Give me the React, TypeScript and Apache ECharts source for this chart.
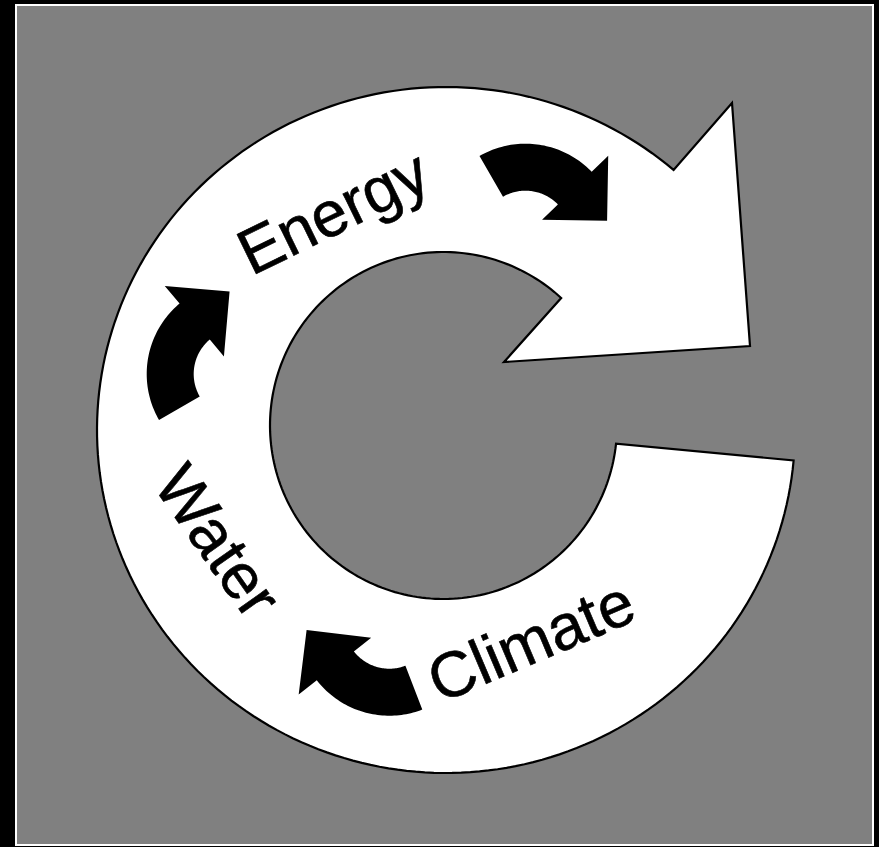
import { useEffect, useRef } from "react";
import * as echarts from "echarts";

// ---- content ----
const labels = ["Energy", "Water", "Climate"];
const labelCenterX = [333, 218, 531];
const labelCenterY = [212, 541, 641];
const labelAngleDeg = [26, -55, 23];

// small black curved arrows (centre of curvature, tail angle, head angle; screen degrees, clockwise)
const arrowCenterX = [525.5, 238.7, 389.3];
const arrowCenterY = [235.7, 374, 623.7];
const arrowTailDeg = [-120, 150, 69];
const arrowHeadDeg = [-44, 230, 142];

// big ring arrow
const ringOuter = { cx: 446, cy: 430, rx: 349, ry: 343, from: 5.1, to: 310.7 };
const ringInner = { cx: 443.5, cy: 425.5, r: 173.5, from: 312.7, to: 6.0 };
const ringHeadX = [732, 750, 504];
const ringHeadY = [103, 346, 362];

const ARROW_R_IN = 45;
const ARROW_R_OUT = 92;
const HEAD_R_MIN = 23;
const HEAD_R_MAX = 115;

const W = 879;
const H = 847;

function pt(cx: number, cy: number, rx: number, ry: number, deg: number): number[] {
  const a = (deg * Math.PI) / 180;
  return [cx + rx * Math.cos(a), cy + ry * Math.sin(a)];
}

function arc(cx: number, cy: number, rx: number, ry: number, a0: number, a1: number, step = 1.5): number[][] {
  const n = Math.max(2, Math.ceil(Math.abs(a1 - a0) / step));
  const pts: number[][] = [];
  for (let i = 0; i <= n; i++) pts.push(pt(cx, cy, rx, ry, a0 + ((a1 - a0) * i) / n));
  return pts;
}

function ringPoints(): number[][] {
  const o = ringOuter;
  const inn = ringInner;
  const pts: number[][] = [];
  pts.push(...arc(o.cx, o.cy, o.rx, o.ry, o.from, o.to));
  for (let i = 0; i < ringHeadX.length; i++) pts.push([ringHeadX[i], ringHeadY[i]]);
  pts.push(...arc(inn.cx, inn.cy, inn.r, inn.r, inn.from, inn.to));
  return pts;
}

function curvedArrowPoints(i: number): number[][] {
  const cx = arrowCenterX[i];
  const cy = arrowCenterY[i];
  const a0 = arrowTailDeg[i];
  const a1 = arrowHeadDeg[i];
  const pts: number[][] = [];
  pts.push(...arc(cx, cy, ARROW_R_OUT, ARROW_R_OUT, a0, a1));
  pts.push(pt(cx, cy, HEAD_R_MAX, HEAD_R_MAX, a1));
  const rMid = (HEAD_R_MIN + HEAD_R_MAX) / 2;
  const half = (HEAD_R_MAX - HEAD_R_MIN) / 2;
  const mid = pt(cx, cy, rMid, rMid, a1);
  const a = (a1 * Math.PI) / 180;
  pts.push([mid[0] - half * Math.sin(a), mid[1] + half * Math.cos(a)]);
  pts.push(pt(cx, cy, HEAD_R_MIN, HEAD_R_MIN, a1));
  pts.push(...arc(cx, cy, ARROW_R_IN, ARROW_R_IN, a1, a0));
  return pts;
}

export default function App() {
  const ref = useRef<HTMLDivElement>(null);
  useEffect(() => {
    if (!ref.current) return;
    const chart = echarts.init(ref.current, undefined, { renderer: "svg", width: W, height: H });
    const elements: any[] = [
      {
        type: "rect",
        shape: { x: 16, y: 5, width: 857, height: 840 },
        style: { fill: "#808080", stroke: "#ffffff", lineWidth: 2 },
      },
      {
        type: "polygon",
        shape: { points: ringPoints() },
        style: { fill: "#ffffff", stroke: "#000000", lineWidth: 2.2, lineJoin: "miter" },
      },
    ];
    for (let i = 0; i < arrowCenterX.length; i++) {
      elements.push({
        type: "polygon",
        shape: { points: curvedArrowPoints(i) },
        style: { fill: "#000000" },
      });
    }
    for (let i = 0; i < labels.length; i++) {
      elements.push({
        type: "text",
        x: labelCenterX[i],
        y: labelCenterY[i],
        rotation: (labelAngleDeg[i] * Math.PI) / 180,
        style: {
          text: labels[i],
          fontSize: 64,
          fontFamily: "Liberation Sans, Arial, sans-serif",
          fill: "#000000",
          stroke: "#000000",
          lineWidth: 0.6,
          align: "center",
          verticalAlign: "middle",
        },
      });
    }
    chart.setOption({
      animation: false,
      backgroundColor: "#000000",
      graphic: { elements },
    });
    return () => chart.dispose();
  }, []);
  return (
    <div
      ref={ref}
      style={{ position: "fixed", left: 0, top: 0, width: W, height: H }}
    />
  );
}
